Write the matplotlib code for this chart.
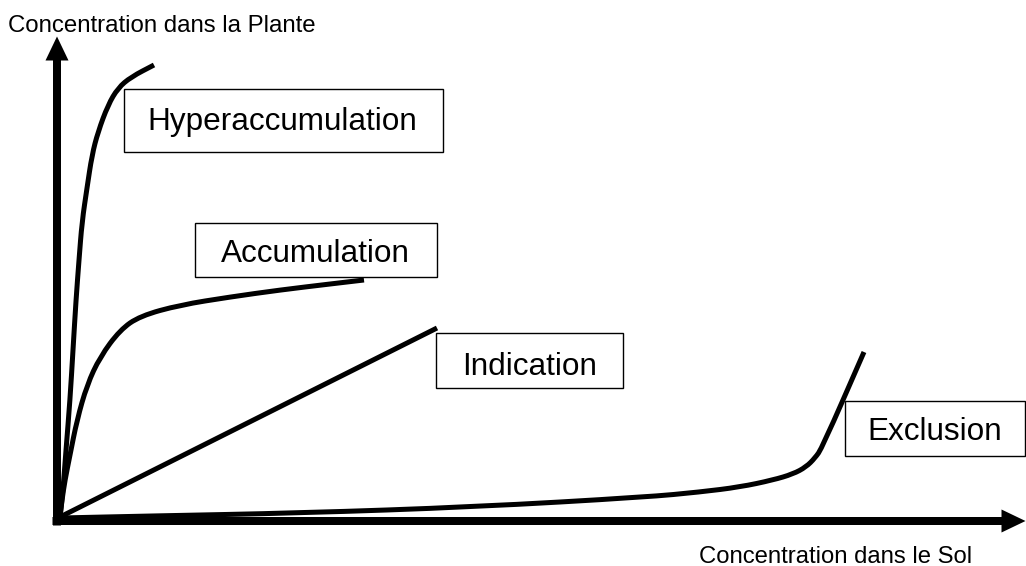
import matplotlib
matplotlib.use("Agg")
import matplotlib.pyplot as plt
from matplotlib.patches import FancyArrow, Rectangle, PathPatch
from matplotlib.path import Path

# ---- data (soil concentration vs plant concentration, arbitrary units) ----
hyper_x = [0.3, 0.6, 0.9, 1.3, 1.6, 1.9, 2.2, 2.5, 3.0, 3.5, 4.1, 5.1, 6.1, 7.4, 9.7]
hyper_y = [0.4, 3.1, 7.1, 12.1, 17.1, 22.1, 26.1, 29.9, 33.3, 36.6, 38.9, 41.6, 43.3, 44.4, 45.6]

accum_x = [0.3, 0.5, 0.8, 1.3, 2.0, 3.0, 4.3, 6.3, 8.3, 12.3, 17.3, 22.3, 27.3, 30.7]
accum_y = [0.4, 2.1, 4.1, 6.6, 10.1, 13.6, 16.4, 19.1, 20.5, 21.6, 22.4, 23.1, 23.7, 24.1]

indic_x = [0.3, 38.0]
indic_y = [0.4, 19.3]

excl_x = [0.3, 9.3, 24.3, 41.6, 59.0, 64.3, 68.3, 71.6, 73.6, 74.9, 75.8, 76.5, 80.7]
excl_y = [0.3, 0.5, 0.8, 1.4, 2.4, 2.9, 3.4, 4.1, 4.7, 5.4, 6.3, 7.3, 16.9]

labels = ["Hyperaccumulation", "Accumulation", "Indication", "Exclusion"]
x_label = "Concentration dans le Sol"
y_label = "Concentration dans la Plante"


def smooth_path(xs, ys):
    """Quadratic B-spline path with the read points as control points."""
    pts = list(zip(xs, ys))
    if len(pts) < 3:
        return Path(pts, [Path.MOVETO] + [Path.LINETO] * (len(pts) - 1))
    verts = [pts[0]]
    codes = [Path.MOVETO]
    mid = lambda a, b: ((a[0] + b[0]) / 2, (a[1] + b[1]) / 2)
    verts.append(mid(pts[0], pts[1]))
    codes.append(Path.LINETO)
    for i in range(1, len(pts) - 1):
        verts += [pts[i], mid(pts[i], pts[i + 1])]
        codes += [Path.CURVE3, Path.CURVE3]
    verts.append(pts[-1])
    codes.append(Path.LINETO)
    return Path(verts, codes)


# ---- figure ----
plt.rcParams['font.family'] = ['Liberation Sans', 'DejaVu Sans']
fig = plt.figure(figsize=(10.26, 5.66), dpi=100)
ax = fig.add_axes([0, 0, 1, 1])
ax.set_xlim(-5.7, 96.9)
ax.set_ylim(-4.5, 52.1)
ax.axis('off')

# axes arrows
ax.add_patch(FancyArrow(-0.45, 0, 97.3, 0, width=0.8, head_width=2.3, head_length=2.4,
                        length_includes_head=True, color='black', lw=0))
ax.add_patch(FancyArrow(0, -0.45, 0, 48.9, width=0.8, head_width=2.3, head_length=2.4,
                        length_includes_head=True, color='black', lw=0))

lw = 3.6
for xs, ys in [(hyper_x, hyper_y), (accum_x, accum_y), (indic_x, indic_y), (excl_x, excl_y)]:
    ax.add_patch(PathPatch(smooth_path(xs, ys), facecolor='none', edgecolor='black',
                           lw=lw, capstyle='butt', joinstyle='round'))

# label boxes (layout)
boxes = [
    (6.7, 36.9, 31.9, 6.3, 22.5, 39.1),
    (13.8, 24.4, 24.2, 5.4, 25.8, 25.93),
    (37.9, 13.3, 18.7, 5.5, 47.3, 14.6),
    (78.8, 6.5, 18.0, 5.5, 87.8, 8.1),
]
for lab, (bx, by, bw, bh, tx, ty) in zip(labels, boxes):
    ax.add_patch(Rectangle((bx, by), bw, bh, facecolor='white', edgecolor='black', lw=1.0, zorder=3))
    ax.text(tx, ty, lab, ha='center', va='baseline', fontsize=22.7, color='black', zorder=4)

ax.text(-4.9, 48.93, y_label, ha='left', va='baseline', fontsize=17.3, color='black')
ax.text(64.2, -4.2, x_label, ha='left', va='baseline', fontsize=17.2, color='black')

fig.savefig("out.png", dpi=100)
